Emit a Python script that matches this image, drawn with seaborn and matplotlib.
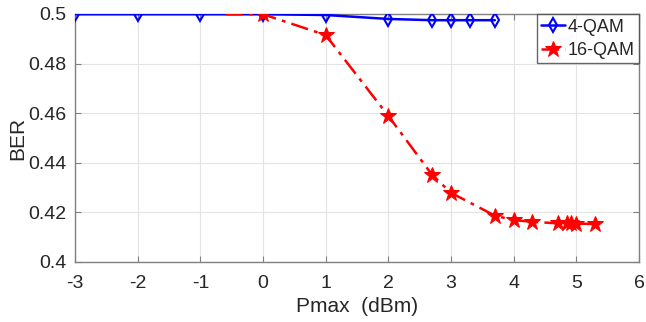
import matplotlib
matplotlib.use("Agg")
import matplotlib.pyplot as plt
import seaborn as sns
import pandas as pd

x_4qam = [-3, -2, -1, 0, 1, 2, 2.7, 3, 3.3, 3.7]
ber_4qam = [0.4999, 0.4999, 0.4999, 0.4999, 0.4996, 0.4980, 0.4975, 0.4975, 0.4975, 0.4975]

x_16qam = [-0.6, 0, 1, 2, 2.7, 3, 3.7, 4, 4.3, 4.7, 4.85, 4.92, 5.0, 5.3]
ber_16qam = [0.4999, 0.4999, 0.4915, 0.4589, 0.4351, 0.4279, 0.4187, 0.4169, 0.4162,
             0.4156, 0.4156, 0.4156, 0.4155, 0.4153]

x_ticks = [-3, -2, -1, 0, 1, 2, 3, 4, 5, 6]
y_ticks = [0.4, 0.42, 0.44, 0.46, 0.48, 0.5]
y_tick_labels = ["0.4", "0.42", "0.44", "0.46", "0.48", "0.5"]

sns.set_theme(style="white")
plt.rcParams["font.family"] = ["Liberation Sans", "DejaVu Sans"]

fig = plt.figure(figsize=(6.46, 3.22), dpi=100)
ax = fig.add_axes([75 / 646, 1 - 262 / 322, (639 - 75) / 646, (262 - 14) / 322])

df4 = pd.DataFrame({"x": x_4qam, "y": ber_4qam})
df16 = pd.DataFrame({"x": x_16qam, "y": ber_16qam})

sns.lineplot(data=df4, x="x", y="y", ax=ax, color="#0000ff", linewidth=1.8,
             marker="d", markersize=7.5, markerfacecolor="none", markeredgecolor="#0000ff",
             markeredgewidth=1.5, label="4-QAM", zorder=3)
sns.lineplot(data=df16, x="x", y="y", ax=ax, color="#ff0000", linewidth=1.8,
             marker="*", markersize=12, markeredgecolor="#ff0000", markerfacecolor="#ff0000",
             markevery=list(range(1, len(x_16qam))), label="16-QAM", zorder=4)
ax.lines[1].set_dashes([7, 2.5, 1.5, 2.5])

ax.set_xlim(-3, 6)
ax.set_ylim(0.4, 0.5)
ax.set_xticks(x_ticks)
ax.set_xticklabels([str(t) for t in x_ticks])
ax.set_yticks(y_ticks)
ax.set_yticklabels(y_tick_labels)
ax.grid(True, color="#e3e3e3", linewidth=0.8)
ax.set_axisbelow(True)
for s in ax.spines.values():
    s.set_color("#808080")
    s.set_linewidth(1.0)
ax.tick_params(direction="in", length=4, width=0.8, color="#808080", labelsize=14,
               labelcolor="#262626", top=True, right=True, bottom=True, left=True)
ax.tick_params(axis="x", pad=9)
ax.tick_params(axis="y", pad=6)
ax.set_xlabel("Pmax  (dBm)", fontsize=15, color="#262626", labelpad=4)
ax.set_ylabel("BER", fontsize=15, color="#262626", labelpad=1)

leg = ax.legend(loc="upper right", fontsize=13, frameon=True, fancybox=False,
                borderaxespad=0.0, borderpad=0.25, handlelength=1.3, handletextpad=0.15,
                labelspacing=0.35)
leg.get_frame().set_edgecolor("#404040")
leg.get_frame().set_linewidth(1.0)

fig.savefig("out.png", dpi=100)
